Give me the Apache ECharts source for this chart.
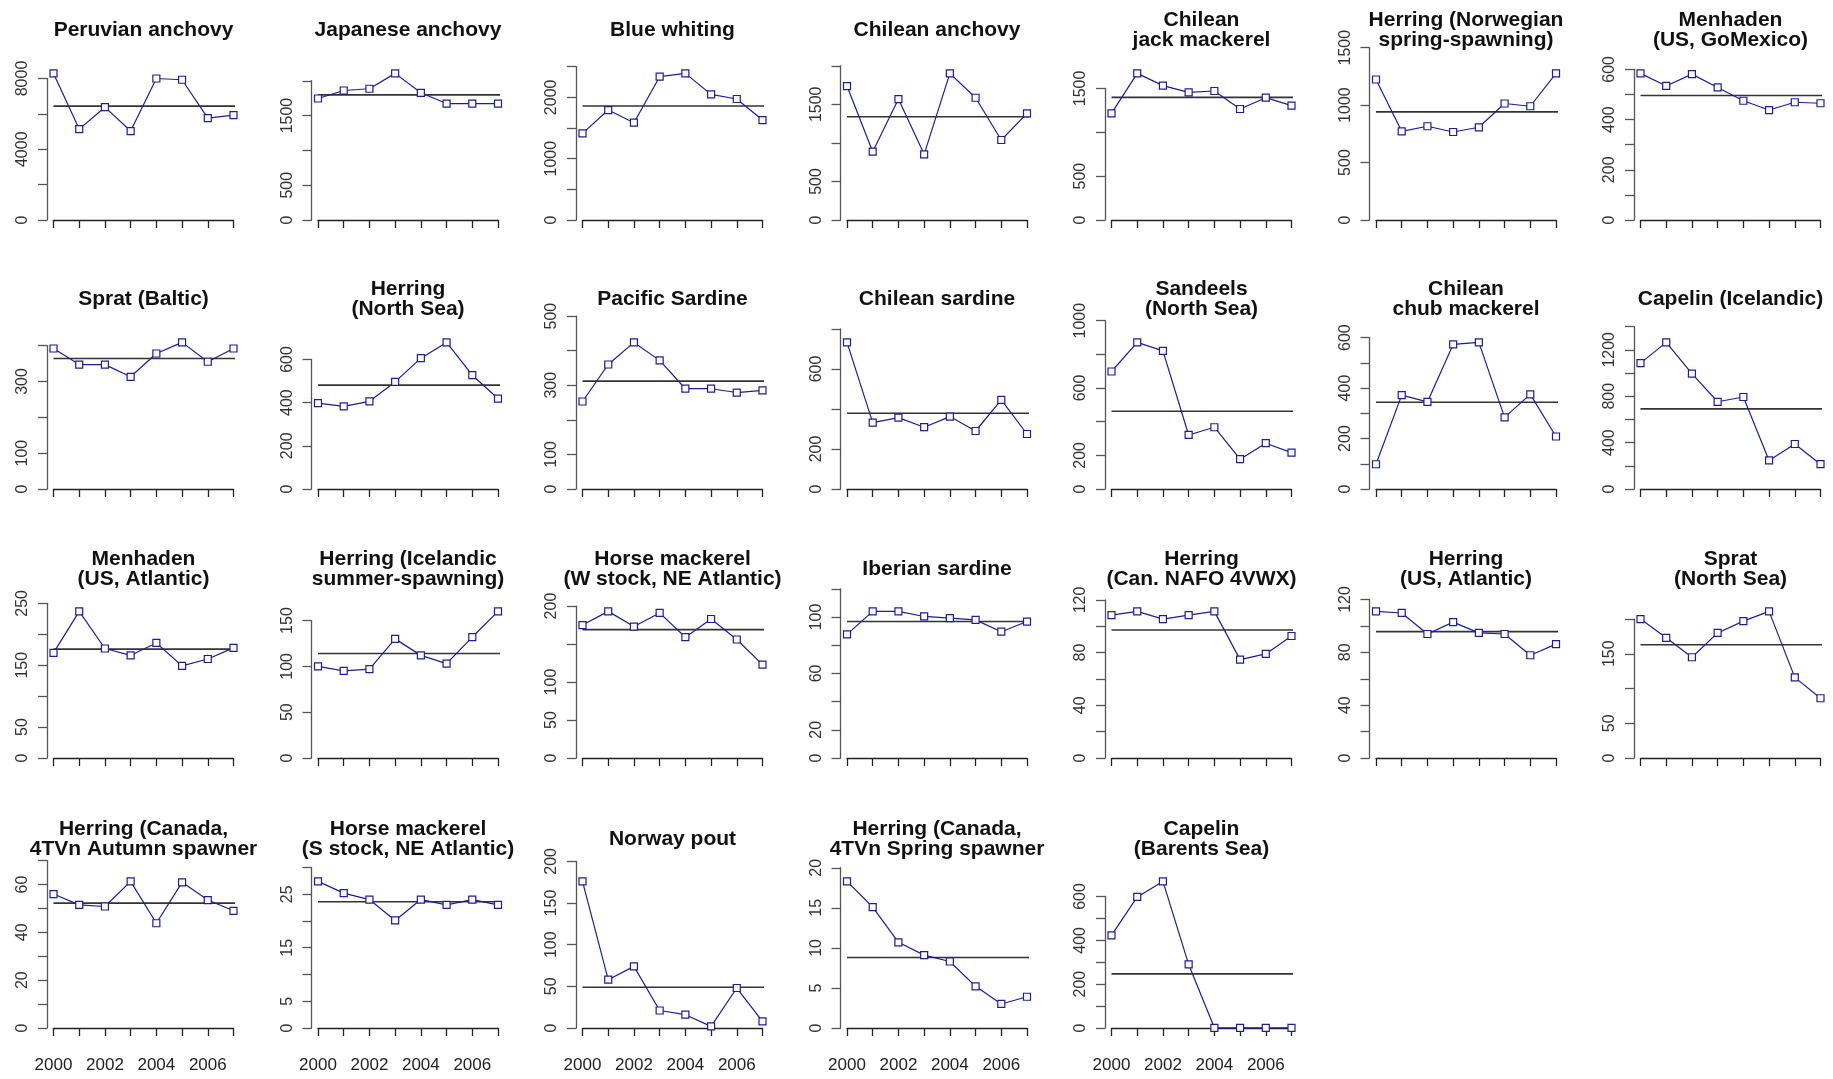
<!DOCTYPE html>
<html>
<head>
<meta charset="utf-8">
<script src="https://cdn.jsdelivr.net/npm/echarts@6/dist/echarts.min.js"></script>
<style>
  html, body { margin: 0; background: #fff; }
  #chart { width: 1833px; height: 1079px; }
</style>
</head>
<body>
<div id="chart"></div>
<script>
// years on every panel
const years = [2000, 2001, 2002, 2003, 2004, 2005, 2006, 2007];
const yearLabels = [2000, 2002, 2004, 2006];

// panel titles, in reading order (7 per row)
const titles = [
  "Peruvian anchovy", "Japanese anchovy", "Blue whiting", "Chilean anchovy",
  "Chilean\njack mackerel", "Herring (Norwegian\nspring-spawning)", "Menhaden\n(US, GoMexico)",
  "Sprat (Baltic)", "Herring\n(North Sea)", "Pacific Sardine", "Chilean sardine",
  "Sandeels\n(North Sea)", "Chilean\nchub mackerel", "Capelin (Icelandic)",
  "Menhaden\n(US, Atlantic)", "Herring (Icelandic\nsummer-spawning)", "Horse mackerel\n(W stock, NE Atlantic)",
  "Iberian sardine", "Herring\n(Can. NAFO 4VWX)", "Herring\n(US, Atlantic)", "Sprat\n(North Sea)",
  "Herring (Canada,\n4TVn Autumn spawner", "Horse mackerel\n(S stock, NE Atlantic)", "Norway pout",
  "Herring (Canada,\n4TVn Spring spawner", "Capelin\n(Barents Sea)"
];

// values, 2000..2007
const peruvianAnchovy   = [8290, 5140, 6380, 5030, 8000, 7930, 5760, 5930];
const japaneseAnchovy   = [1745, 1860, 1885, 2106, 1827, 1673, 1673, 1673];
const blueWhiting       = [1413, 1793, 1587, 2337, 2391, 2049, 1973, 1630];
const chileanAnchovy    = [1737, 886, 1568, 851, 1901, 1585, 1037, 1382];
const chileanJackMack   = [1216, 1672, 1532, 1456, 1471, 1266, 1395, 1304];
const herringNorwegian  = [1223, 772, 816, 766, 807, 1014, 990, 1276];
const menhadenGoMexico  = [584, 534, 581, 528, 475, 438, 469, 465];
const spratBaltic       = [392, 347, 347, 313, 378, 409, 355, 392];
const herringNorthSea   = [398, 383, 406, 496, 606, 679, 527, 419];
const pacificSardine    = [253, 360, 424, 372, 290, 290, 279, 285];
const chileanSardine    = [733, 332, 357, 309, 362, 290, 446, 275];
const sandeelsNorthSea  = [698, 871, 821, 321, 367, 177, 272, 216];
const chileanChubMack   = [98, 372, 345, 573, 581, 284, 375, 208];
const capelinIcelandic  = [1085, 1264, 995, 752, 793, 246, 388, 214];
const menhadenAtlantic  = [170, 237, 177, 166, 186, 149, 160, 178];
const herringIcelandic  = [100, 95, 97, 130, 112, 103, 132, 160];
const horseMackerelW    = [175, 193, 173, 191, 159, 183, 156, 123];
const iberianSardine    = [87.7, 104, 104, 100.4, 99.2, 98, 89.6, 96.8];
const herringNafo       = [108.5, 111.3, 105.4, 108.5, 111.3, 74.7, 79, 92.6];
const herringUSAtlantic = [111, 109.8, 93.9, 102.9, 94.7, 93.9, 77.8, 86.2];
const spratNorthSea     = [200, 173, 145, 180, 197, 211, 116, 86];
const herringAutumn     = [56, 51.5, 50.8, 61.3, 43.8, 60.9, 53.5, 49];
const horseMackerelS    = [27.4, 25.2, 24, 20.1, 24, 23, 24, 23];
const norwayPout        = [176, 58, 74, 21, 16, 2, 48, 8];
const herringSpring     = [18.3, 15.1, 10.7, 9.1, 8.3, 5.2, 3.0, 3.9];
const capelinBarents    = [423, 598, 669, 290, 1, 1, 1, 1];

const values = [
  peruvianAnchovy, japaneseAnchovy, blueWhiting, chileanAnchovy, chileanJackMack, herringNorwegian, menhadenGoMexico,
  spratBaltic, herringNorthSea, pacificSardine, chileanSardine, sandeelsNorthSea, chileanChubMack, capelinIcelandic,
  menhadenAtlantic, herringIcelandic, horseMackerelW, iberianSardine, herringNafo, herringUSAtlantic, spratNorthSea,
  herringAutumn, horseMackerelS, norwayPout, herringSpring, capelinBarents
];

// horizontal reference line of each panel, as drawn
const meanLine = [
  6440, 1798, 1859, 1339, 1399, 941, 496,
  364, 481, 312, 379, 462, 344, 691,
  176, 114, 169, 96.8, 97.2, 95.7, 163,
  52.2, 23.6, 49, 8.8, 247
];

// y axis: tick step, last tick, and which tick labels survive
const tickStep = [2000, 500, 500, 500, 500, 500, 100, 100, 200, 100, 200, 200, 100, 200,
                  50, 50, 50, 20, 20, 20, 50, 10, 5, 50, 5, 100];
const tickTop  = [8000, 2000, 2500, 2000, 1500, 1500, 600, 400, 600, 500, 800, 1000, 600, 1400,
                  250, 150, 200, 120, 120, 120, 200, 70, 30, 200, 20, 600];
const tickLabels = [
  [0, 4000, 8000], [0, 500, 1500], [0, 1000, 2000], [0, 500, 1500], [0, 500, 1500], [0, 500, 1000, 1500], [0, 200, 400, 600],
  [0, 100, 300], [0, 200, 400, 600], [0, 100, 300, 500], [0, 200, 600], [0, 200, 600, 1000], [0, 200, 400, 600], [0, 400, 800, 1200],
  [0, 50, 150, 250], [0, 50, 100, 150], [0, 50, 100, 200], [0, 20, 60, 100], [0, 40, 80, 120], [0, 40, 80, 120], [0, 50, 150],
  [0, 20, 40, 60], [0, 5, 15, 25], [0, 50, 100, 150, 200], [0, 5, 10, 15, 20], [0, 200, 400, 600]
];

// layout (R-like: ylim = 1.18 * max, same plot height everywhere)
const FONT = '"Liberation Sans", Arial, sans-serif';
const BLUE = "#1c1c9e";
const YLIM_K = 1.18;
const PLOT_H = 173;
const rowZero = [220, 489, 758, 1028];
const rowTitle = [30, 299, 569, 839];
const plain = (v) => String(v);

const grids = [], xAxes = [], yAxes = [], series = [], graphics = [];

values.forEach((vals, i) => {
  const col = i % 7, row = Math.floor(i / 7);
  const left = 47 + 264.5 * col + 6.5;
  const width = 180;
  const usrTop = YLIM_K * Math.max(...vals);
  const h = PLOT_H * tickTop[i] / usrTop;
  grids.push({ left, top: rowZero[row] - h, width, height: h });

  const ticks = [];
  for (let t = 0; t <= tickTop[i]; t += tickStep[i]) ticks.push(t);

  yAxes.push({
    gridIndex: i, type: "value", min: 0, max: tickTop[i], offset: 6.5,
    axisLine: { show: true, lineStyle: { color: "#555", width: 1.3 } },
    axisTick: { show: true, length: 9, customValues: ticks, lineStyle: { color: "#555", width: 1.3 } },
    axisLabel: { customValues: tickLabels[i], formatter: plain, rotate: 90, margin: 16, fontSize: 16, color: "#333", fontFamily: FONT },
    splitLine: { show: false }
  });
  xAxes.push({
    gridIndex: i, type: "value", min: 2000, max: 2007, offset: 7,
    axisLine: { show: true, lineStyle: { color: "#222", width: 1.3 } },
    axisTick: { show: true, length: 8, customValues: years, lineStyle: { color: "#222", width: 1.3 } },
    axisLabel: { show: i >= 21, customValues: yearLabels, formatter: plain, margin: 22, fontSize: 17, color: "#222", fontFamily: FONT },
    splitLine: { show: false }
  });

  series.push({
    type: "line", xAxisIndex: i, yAxisIndex: i, silent: true, clip: false, z: 2,
    symbol: "none",
    data: [[2000, meanLine[i]], [2007.27, meanLine[i]]],
    lineStyle: { color: "#333", width: 1.6 }
  });
  series.push({
    type: "line", xAxisIndex: i, yAxisIndex: i, clip: false, z: 3,
    data: years.map((y, j) => [y, vals[j]]),
    symbol: "rect", symbolSize: 7,
    lineStyle: { color: BLUE, width: 1.2 },
    itemStyle: { color: "#fff", borderColor: BLUE, borderWidth: 1.2 }
  });

  graphics.push({
    type: "text", x: left + width / 2, y: rowTitle[row],
    style: {
      text: titles[i], align: "center", verticalAlign: "middle",
      font: "bold 21px " + FONT, lineHeight: 20, fill: "#111"
    }
  });
});

const chart = echarts.init(document.getElementById("chart"));
chart.setOption({
  animation: false,
  backgroundColor: "#fff",
  grid: grids,
  xAxis: xAxes,
  yAxis: yAxes,
  series,
  graphic: graphics
});
</script>
</body>
</html>
